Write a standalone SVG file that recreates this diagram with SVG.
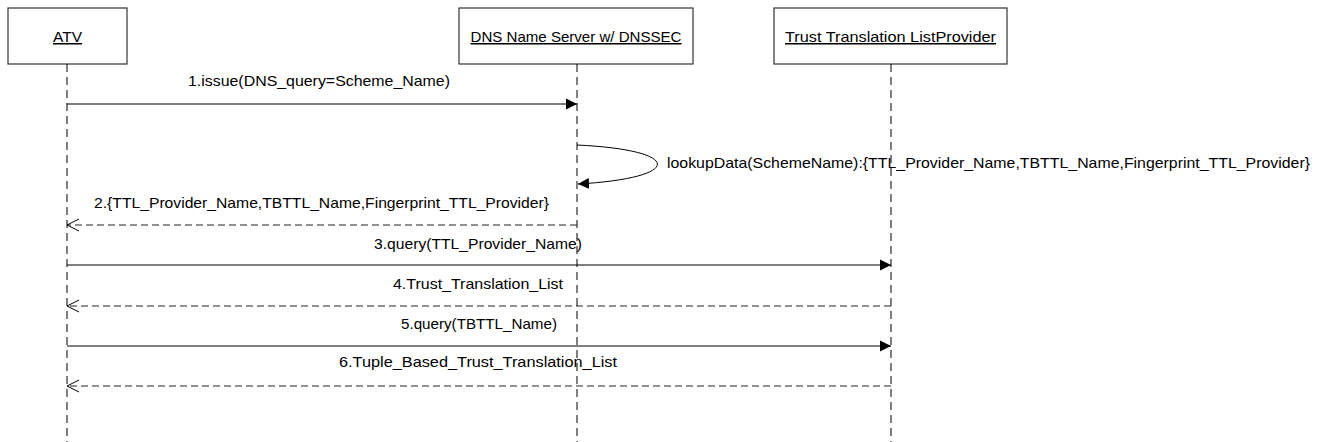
<svg xmlns="http://www.w3.org/2000/svg" width="1325" height="442" viewBox="0 0 1325 442">
<style>
.box{fill:#fff;stroke:#333;stroke-width:1.2}
.life{stroke:#000;stroke-width:1;stroke-dasharray:8 5;fill:none}
.msg{stroke:#000;stroke-width:1;fill:none}
.ret{stroke:#222;stroke-width:1;stroke-dasharray:7 4;fill:none}
text{font-family:"Liberation Sans",Arial,sans-serif;font-size:15px;fill:#000}
.lbl{text-decoration:underline}
</style>
<defs>
<marker id="filled" markerWidth="12" markerHeight="12" refX="11" refY="6" orient="auto" markerUnits="userSpaceOnUse">
<path d="M0,0.5 L11,6 L0,11.5 Z" fill="#000"/>
</marker>
<marker id="open" markerWidth="14" markerHeight="14" refX="13" refY="7" orient="auto" markerUnits="userSpaceOnUse">
<path d="M1,1 L13,7 L1,13" fill="none" stroke="#000" stroke-width="1"/>
</marker>
</defs>
<g id="atv">
<rect class="box" x="8" y="8" width="119" height="56"/>
<text class="lbl" x="67.5" y="42" text-anchor="middle" textLength="29" lengthAdjust="spacingAndGlyphs">ATV</text>
</g>
<g id="dns">
<rect class="box" x="459" y="8" width="234" height="56"/>
<text class="lbl" x="576" y="42" text-anchor="middle" textLength="211" lengthAdjust="spacingAndGlyphs">DNS Name Server w/ DNSSEC</text>
</g>
<g id="ttl">
<rect class="box" x="774" y="8" width="233" height="56"/>
<text class="lbl" x="890.5" y="42" text-anchor="middle" textLength="211" lengthAdjust="spacingAndGlyphs">Trust Translation ListProvider</text>
</g>
<g id="lifelines">
<line class="life" x1="67" y1="64" x2="67" y2="442"/>
<line class="life" x1="577" y1="64" x2="577" y2="442"/>
<line class="life" x1="891" y1="64" x2="891" y2="442"/>
</g>
<g id="connectors">
<line class="msg" x1="67" y1="104" x2="577" y2="104" marker-end="url(#filled)"/>
<path class="msg" d="M577,145 C684,150 684,178 578,184" marker-end="url(#filled)"/>
<line class="ret" x1="577" y1="225" x2="67" y2="225" marker-end="url(#open)"/>
<line class="msg" x1="67" y1="265" x2="891" y2="265" marker-end="url(#filled)"/>
<line class="ret" x1="891" y1="306" x2="67" y2="306" marker-end="url(#open)"/>
<line class="msg" x1="67" y1="346" x2="891" y2="346" marker-end="url(#filled)"/>
<line class="ret" x1="891" y1="386" x2="67" y2="386" marker-end="url(#open)"/>
</g>
<g id="labels">
<text x="188" y="86" textLength="262" lengthAdjust="spacingAndGlyphs">1.issue(DNS_query=Scheme_Name)</text>
<text x="667" y="168" textLength="643" lengthAdjust="spacingAndGlyphs">lookupData(SchemeName):{TTL_Provider_Name,TBTTL_Name,Fingerprint_TTL_Provider}</text>
<text x="94" y="208" textLength="455" lengthAdjust="spacingAndGlyphs">2.{TTL_Provider_Name,TBTTL_Name,Fingerprint_TTL_Provider}</text>
<text x="374" y="249" textLength="208" lengthAdjust="spacingAndGlyphs">3.query(TTL_Provider_Name)</text>
<text x="393" y="289" textLength="170" lengthAdjust="spacingAndGlyphs">4.Trust_Translation_List</text>
<text x="401" y="329" textLength="156" lengthAdjust="spacingAndGlyphs">5.query(TBTTL_Name)</text>
<text x="339" y="367" textLength="278" lengthAdjust="spacingAndGlyphs">6.Tuple_Based_Trust_Translation_List</text>
</g>
</svg>
